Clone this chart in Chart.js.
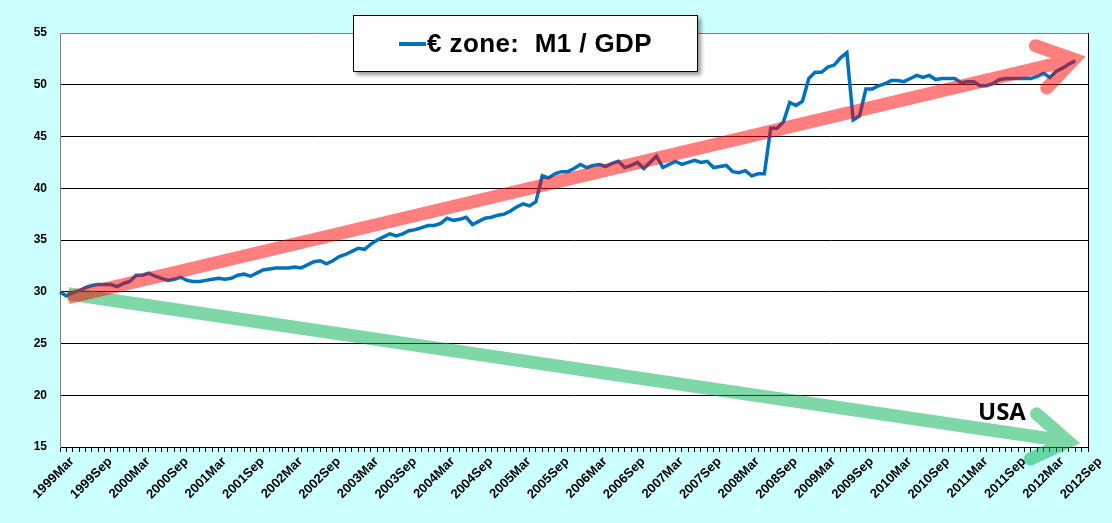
<!DOCTYPE html>
<html lang="en">
<head>
  <meta charset="UTF-8" />
  <title>Euro zone M1 / GDP</title>
  <script src="https://cdn.jsdelivr.net/npm/chart.js"></script>
  <style>
    body {
      margin: 0;
      background-color: #ccffff;
    }
    .wrap {
      position: relative;
      width: 1112px;
      height: 523px;
    }
    .legend-box {
      position: absolute;
      left: 353px;
      top: 15px;
      width: 345px;
      height: 57px;
      box-sizing: border-box;
      border: 1px solid #000;
      background: #fff;
      box-shadow: 3px 3px 4px rgba(0, 0, 0, 0.4);
      display: flex;
      align-items: center;
      justify-content: center;
      font: bold 26px "Liberation Sans", Arial, sans-serif;
      letter-spacing: 0.4px;
      white-space: pre;
    }
    .legend-box .swatch {
      display: inline-block;
      width: 27px;
      height: 4px;
      background: #0070c0;
      margin-right: 1px;
    }
    .usa {
      position: absolute;
      left: 978px;
      top: 399px;
      font: bold 24px "Open Sans", sans-serif;
      line-height: 24px;
      color: #000;
    }
  </style>
</head>
<body>
  <div class="wrap">
    <canvas id="m1Chart" width="1112" height="523"></canvas>
    <div class="legend-box"><span class="swatch"></span><span>€ zone:  M1 / GDP</span></div>
    <div class="usa">USA</div>
  </div>

  <script>
    // monthly series, 1999Mar .. 2012Jul (axis runs to 2012Sep)
    const monthNames = ['Jan', 'Feb', 'Mar', 'Apr', 'May', 'Jun', 'Jul', 'Aug', 'Sep', 'Oct', 'Nov', 'Dec'];
    const firstYear = 1999, firstMonth = 2;   // March
    const lastYear = 2012, lastMonth = 8;     // September

    const m1y1999 = [30.0, 29.6, 29.9, 30.1, 30.4, 30.6, 30.7, 30.7, 30.7, 30.5];
    const m1y2000 = [30.8, 31.0, 31.6, 31.6, 31.8, 31.5, 31.3, 31.1, 31.2, 31.4, 31.1, 31.0];
    const m1y2001 = [31.0, 31.1, 31.2, 31.3, 31.2, 31.3, 31.6, 31.7, 31.5, 31.8, 32.1, 32.2];
    const m1y2002 = [32.3, 32.3, 32.3, 32.4, 32.3, 32.6, 32.9, 33.0, 32.7, 33.0, 33.4, 33.6];
    const m1y2003 = [33.9, 34.2, 34.1, 34.6, 35.0, 35.3, 35.6, 35.4, 35.6, 35.9, 36.0, 36.2];
    const m1y2004 = [36.4, 36.4, 36.6, 37.1, 36.9, 37.0, 37.2, 36.5, 36.8, 37.1, 37.2, 37.4];
    const m1y2005 = [37.5, 37.8, 38.2, 38.5, 38.3, 38.7, 41.2, 41.0, 41.4, 41.6, 41.6, 41.9];
    const m1y2006 = [42.3, 42.0, 42.2, 42.3, 42.1, 42.4, 42.6, 42.0, 42.2, 42.5, 41.9, 42.5];
    const m1y2007 = [43.1, 42.0, 42.3, 42.6, 42.3, 42.5, 42.7, 42.5, 42.6, 42.0, 42.1, 42.2];
    const m1y2008 = [41.6, 41.5, 41.7, 41.2, 41.4, 41.4, 45.8, 45.8, 46.4, 48.3, 48.0, 48.4];
    const m1y2009 = [50.6, 51.2, 51.2, 51.7, 51.9, 52.6, 53.1, 46.6, 47.0, 49.6, 49.6, 49.9];
    const m1y2010 = [50.1, 50.4, 50.4, 50.3, 50.6, 50.9, 50.7, 50.9, 50.5, 50.6, 50.6, 50.6];
    const m1y2011 = [50.2, 50.3, 50.3, 49.9, 49.9, 50.1, 50.5, 50.6, 50.6, 50.6, 50.6, 50.6];
    const m1y2012 = [50.8, 51.1, 50.7, 51.3, 51.6, 52.0, 52.3];

    const yTicks = [15, 20, 25, 30, 35, 40, 45, 50, 55];

    // hand-drawn trend arrows, in (month index, value) units
    const euroArrow = { from: [1.26, 29.42], tip: [159.8, 52.45], barbs: [[153.7, 53.77], [155.5, 49.68]] };
    const usaArrow = { from: [1.26, 29.81], tip: [158.9, 15.53], barbs: [[153.9, 18.21], [152.9, 13.84]] };

    const months = [];
    for (let y = firstYear; y <= lastYear; y++) {
      const m0 = y === firstYear ? firstMonth : 0;
      const m1 = y === lastYear ? lastMonth : 11;
      for (let m = m0; m <= m1; m++) months.push(y + monthNames[m]);
    }
    const m1gdp = [].concat(m1y1999, m1y2000, m1y2001, m1y2002, m1y2003, m1y2004, m1y2005,
      m1y2006, m1y2007, m1y2008, m1y2009, m1y2010, m1y2011, m1y2012);

    function drawArrow(chart, arrow, color) {
      const { ctx, scales } = chart;
      const px = p => [scales.x.getPixelForValue(p[0]), scales.y.getPixelForValue(p[1])];
      const off = document.createElement('canvas');
      off.width = ctx.canvas.width;
      off.height = ctx.canvas.height;
      const o = off.getContext('2d');
      o.setTransform(ctx.getTransform());
      o.strokeStyle = color;
      o.lineWidth = 13;
      const [sx, sy] = px(arrow.from);
      const [tx, ty] = px(arrow.tip);
      const [ax, ay] = px(arrow.barbs[0]);
      const [bx, by] = px(arrow.barbs[1]);
      o.lineCap = 'butt';
      o.beginPath(); o.moveTo(sx, sy); o.lineTo(tx, ty); o.stroke();
      o.lineCap = 'round';
      o.lineJoin = 'miter';
      o.beginPath(); o.moveTo(ax, ay); o.lineTo(tx, ty); o.lineTo(bx, by); o.stroke();
      ctx.save();
      ctx.setTransform(1, 0, 0, 1, 0, 0);
      ctx.globalAlpha = 0.5;
      ctx.drawImage(off, 0, 0);
      ctx.restore();
    }

    const plotFrame = {
      id: 'plotFrame',
      beforeDraw(chart) {
        const { ctx, chartArea: a } = chart;
        ctx.save();
        ctx.fillStyle = '#ffffff';
        ctx.fillRect(a.left, a.top, a.right - a.left, a.bottom - a.top);
        ctx.restore();
      },
      afterDatasetsDraw(chart) {
        const { ctx, chartArea: a } = chart;
        ctx.save();
        ctx.lineWidth = 1;
        ctx.strokeStyle = '#000000';
        ctx.beginPath();
        ctx.moveTo(a.right + 0.5, a.top);
        ctx.lineTo(a.right + 0.5, a.bottom);
        ctx.stroke();
        ctx.restore();
        drawArrow(chart, usaArrow, 'rgb(0,176,80)');
        drawArrow(chart, euroArrow, 'rgb(255,0,0)');
      }
    };

    Chart.defaults.font.family = '"Liberation Sans", Arial, sans-serif';
    Chart.defaults.color = '#000';

    new Chart(document.getElementById('m1Chart'), {
      type: 'line',
      data: {
        labels: months,
        datasets: [{
          label: '€ zone:  M1 / GDP',
          data: m1gdp,
          borderColor: '#0070c0',
          borderWidth: 3.5,
          pointRadius: 0,
          tension: 0,
          fill: false
        }]
      },
      options: {
        responsive: false,
        animation: false,
        devicePixelRatio: 1,
        layout: { padding: { left: 0, right: 24, top: 33, bottom: 0 } },
        plugins: { legend: { display: false }, tooltip: { enabled: false } },
        scales: {
          x: {
            type: 'category',
            offset: false,
            afterFit: s => { s.height = 76; },
            grid: { drawOnChartArea: false, drawTicks: true, tickLength: 5, color: '#000' },
            border: { color: '#000', width: 1 },
            ticks: {
              autoSkip: false,
              maxRotation: 45,
              minRotation: 45,
              padding: 2,
              labelOffset: 12,
              font: { size: 13, weight: 'bold' },
              callback: (v, i) => (i % 6 === 0 ? months[i] : '')
            }
          },
          y: {
            min: yTicks[0],
            max: yTicks[yTicks.length - 1],
            afterFit: s => { s.width = 60; },
            afterBuildTicks: s => { s.ticks = yTicks.map(v => ({ value: v })); },
            grid: {
              drawTicks: false,
              color: c => (c.tick && c.tick.value === 55 ? '#808080' : '#000'),
              lineWidth: 1
            },
            border: { color: '#808080', width: 1 },
            ticks: {
              padding: 13,
              font: { size: 12, weight: 'bold' }
            }
          }
        }
      },
      plugins: [plotFrame]
    });
  </script>
</body>
</html>
